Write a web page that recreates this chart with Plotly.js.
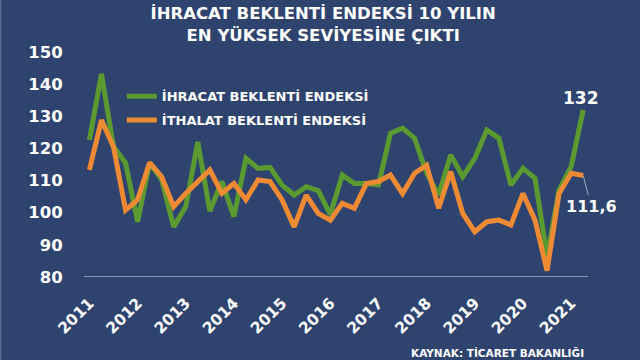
<!DOCTYPE html>
<html>
<head>
<meta charset="utf-8">
<script src="https://cdn.plot.ly/plotly-3.0.1.min.js"></script>
<style>html,body{margin:0;padding:0;background:#2f436f;}#chart{width:640px;height:360px;}</style>
</head>
<body>
<div id="chart"></div>
<script>
var quarters = [
  "2011-Q1","2011-Q2","2011-Q3","2011-Q4",
  "2012-Q1","2012-Q2","2012-Q3","2012-Q4",
  "2013-Q1","2013-Q2","2013-Q3","2013-Q4",
  "2014-Q1","2014-Q2","2014-Q3","2014-Q4",
  "2015-Q1","2015-Q2","2015-Q3","2015-Q4",
  "2016-Q1","2016-Q2","2016-Q3","2016-Q4",
  "2017-Q1","2017-Q2","2017-Q3","2017-Q4",
  "2018-Q1","2018-Q2","2018-Q3","2018-Q4",
  "2019-Q1","2019-Q2","2019-Q3","2019-Q4",
  "2020-Q1","2020-Q2","2020-Q3","2020-Q4",
  "2021-Q1","2021-Q2"
];
var ihracat = [
  122.6, 143.2, 120.5, 115.5,
  97.2, 115.5, 110.2, 95.6,
  101.9, 122.0, 100.5, 109.7,
  98.8, 116.9, 113.8, 114.1,
  108.6, 105.5, 108.1, 106.9,
  99.5, 111.7, 109.1, 109.1,
  108.6, 124.7, 126.3, 123.2,
  112.3, 105.5, 118.0, 111.2,
  116.9, 125.7, 123.2, 108.6,
  113.8, 110.7, 86.5, 107.1,
  114.3, 132.0
];
var ithalat = [
  113.3, 128.8, 120.5, 100.8,
  104.0, 115.6, 111.2, 101.9,
  106.0, 109.7, 113.3, 106.0,
  109.1, 104.0, 110.2, 109.7,
  104.0, 95.6, 105.5, 99.8,
  97.7, 102.9, 101.4, 109.1,
  109.7, 111.7, 106.0, 112.3,
  114.8, 101.4, 112.8, 99.8,
  94.1, 97.2, 97.7, 96.2,
  106.0, 97.7, 82.0, 106.0,
  112.3, 111.6
];
var yearTicks = ["2011-Q1","2012-Q1","2013-Q1","2014-Q1","2015-Q1","2016-Q1","2017-Q1","2018-Q1","2019-Q1","2020-Q1","2021-Q1"];
var yearLabels = ["2011","2012","2013","2014","2015","2016","2017","2018","2019","2020","2021"];
var seriesNames = ["İHRACAT BEKLENTİ ENDEKSİ","İTHALAT BEKLENTİ ENDEKSİ"];

var font = "DejaVu Sans, Verdana, sans-serif";
var traces = [
  {x: quarters, y: ihracat, name: seriesNames[0], type: "scatter", mode: "lines",
   legendgroup: "a", line: {color: "#5b9a30", width: 5}},
  {x: quarters, y: ithalat, name: seriesNames[1], type: "scatter", mode: "lines",
   legendgroup: "b", line: {color: "#ef8a34", width: 5}}
];
var layout = {
  width: 640, height: 360,
  paper_bgcolor: "#2f436f", plot_bgcolor: "#2f436f",
  margin: {l: 84, r: 52, t: 52, b: 83},
  showlegend: true,
  title: {text: "İHRACAT BEKLENTİ ENDEKSİ 10 YILIN<br>EN YÜKSEK SEVİYESİNE ÇIKTI",
          font: {family: font, size: 16.5, color: "#ffffff", weight: "bold"},
          x: 0.505, xanchor: "center", yref: "container", y: 0.947, yanchor: "top"},
  legend: {x: 0.075, y: 0.87, xanchor: "left", yanchor: "top", traceorder: "grouped",
           bgcolor: "rgba(0,0,0,0)", font: {family: font, size: 13, color: "#ffffff", weight: "bold"},
           tracegroupgap: 4, itemwidth: 30},
  xaxis: {type: "category", categoryorder: "array", categoryarray: quarters,
          range: [-0.45, 41.4],
          tickmode: "array", tickvals: yearTicks, ticktext: yearLabels, tickangle: -45,
          tickfont: {family: font, size: 15.5, color: "#ffffff", weight: "bold"},
          showgrid: false, zeroline: false, showline: false,
          ticks: "outside", ticklen: 10, tickcolor: "rgba(0,0,0,0)", fixedrange: true},
  yaxis: {range: [80, 150], dtick: 10, tick0: 80,
          tickfont: {family: font, size: 16.5, color: "#ffffff", weight: "bold"},
          showgrid: false, zeroline: false, showline: false,
          ticks: "outside", ticklen: 17, tickcolor: "rgba(0,0,0,0)"},
  shapes: [
    {type: "line", xref: "paper", yref: "y", x0: 0, x1: 1, y0: 80, y1: 80,
     line: {color: "#a9b6d3", width: 1.5}, layer: "below"},
    {type: "line", xref: "paper", yref: "paper", x0: -0.166, x1: -0.166, y0: -0.37, y1: 1.24,
     line: {color: "#5d6d93", width: 2}}
  ],
  annotations: [
    {x: quarters[41], y: ihracat[41], text: "132", showarrow: false,
     xanchor: "center", yanchor: "bottom", xshift: -2, yshift: 0,
     font: {family: font, size: 17, color: "#ffffff", weight: "bold"}},
    {x: quarters[41], y: ithalat[41], text: "111,6", showarrow: true,
     arrowhead: 0, arrowwidth: 1, arrowcolor: "#a0a8bd", ax: 8, ay: 31,
     font: {family: font, size: 16, color: "#ffffff", weight: "bold"}},
    {xref: "paper", yref: "paper", x: 0.82, y: -0.335, text: "KAYNAK: TİCARET BAKANLIĞI",
     showarrow: false, xanchor: "center", yanchor: "middle",
     font: {family: font, size: 10.5, color: "#ffffff", weight: "bold"}}
  ]
};
Plotly.newPlot("chart", traces, layout, {displayModeBar: false, staticPlot: true});
</script>
</body>
</html>
